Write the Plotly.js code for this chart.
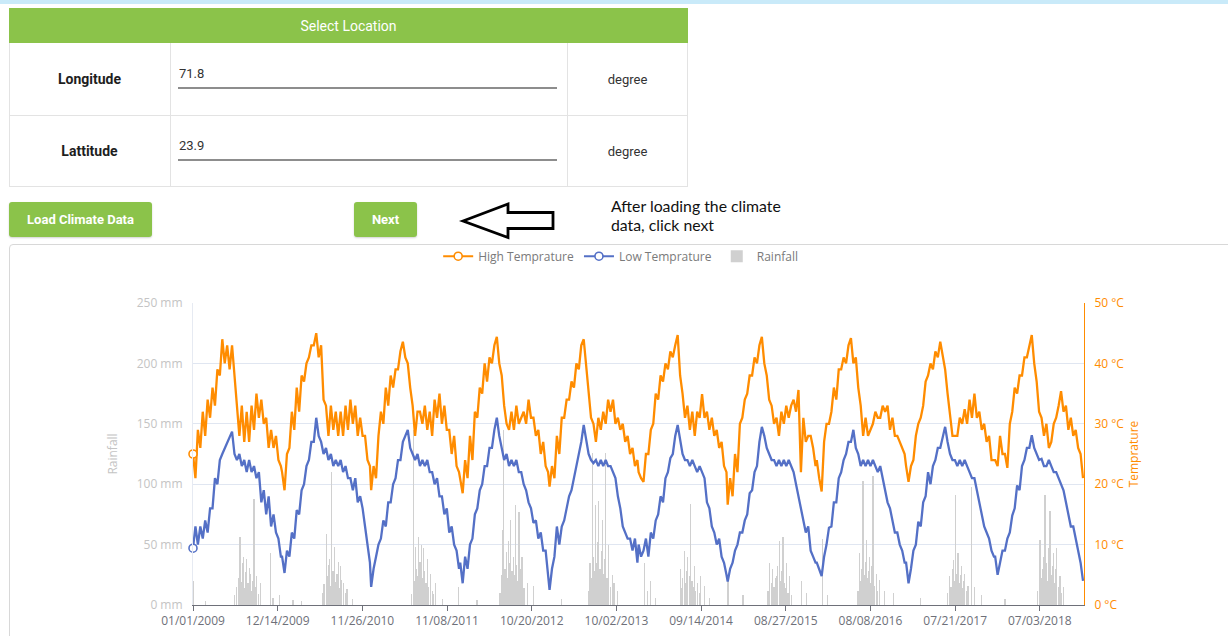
<!DOCTYPE html>
<html>
<head>
<meta charset="utf-8">
<script src="https://cdn.plot.ly/plotly-3.0.1.min.js"></script>
<style>
html,body{margin:0;padding:0;width:1228px;height:636px;overflow:hidden;background:#fff;font-family:Roboto,"Noto Sans",sans-serif;}
.abs{position:absolute;}
#topband{left:0;top:0;width:1228px;height:4px;background:#c9eaf9;}
#hdr{left:9px;top:8px;width:679px;height:35px;background:#8bc34a;color:#fff;font-size:14px;line-height:36px;text-align:center;}
#tbl{left:9px;top:43px;width:677px;height:143px;border:1px solid #e3e3e3;border-top:none;}
.hl{height:1px;background:#e3e3e3;}
.vl{width:1px;background:#e3e3e3;}
.lab{font-weight:bold;font-size:14px;color:#1e1e1e;width:161px;text-align:center;}
.val{font-size:13px;color:#333;}
.ul{height:2px;background:#8d8d8d;}
.unit{font-size:13px;color:#333;width:121px;text-align:center;}
.btn{background:#8bc34a;color:#fff;font-weight:bold;font-size:13px;text-align:center;line-height:35px;height:35px;border-radius:3px;box-shadow:0 1px 2px rgba(0,0,0,0.18);}
#note{left:611px;top:197px;font-family:Lato,"Open Sans",sans-serif;font-size:15.8px;line-height:18.5px;color:#111;}
#box{left:9px;top:244px;width:1240px;height:420px;border:1px solid #d8d8d8;border-radius:4px;}
#chart{left:0;top:0;width:1228px;height:636px;}
</style>
</head>
<body>
<div id="topband" class="abs"></div>
<div id="box" class="abs"></div>
<div id="chart" class="abs"></div>

<div id="hdr" class="abs">Select Location</div>
<div id="tbl" class="abs"></div>
<div class="abs hl" style="left:9px;top:115px;width:679px;"></div>
<div class="abs vl" style="left:170px;top:43px;height:144px;"></div>
<div class="abs vl" style="left:567px;top:43px;height:144px;"></div>
<div class="abs lab" style="left:9px;top:71px;">Longitude</div>
<div class="abs lab" style="left:9px;top:143px;">Lattitude</div>
<div class="abs val" style="left:179px;top:66px;">71.8</div>
<div class="abs val" style="left:179px;top:138px;">23.9</div>
<div class="abs ul" style="left:178px;top:87px;width:379px;"></div>
<div class="abs ul" style="left:178px;top:159px;width:379px;"></div>
<div class="abs unit" style="left:567px;top:72px;">degree</div>
<div class="abs unit" style="left:567px;top:144px;">degree</div>

<div class="abs btn" style="left:9px;top:202px;width:143px;">Load Climate Data</div>
<div class="abs btn" style="left:354px;top:202px;width:63px;">Next</div>
<svg class="abs" style="left:0;top:0;" width="1228" height="250">
  <path d="M463,221 L508,204 L508,212.5 L553,212.5 L553,228.5 L508,228.5 L508,237.5 Z" fill="#fff" stroke="#000" stroke-width="2.8" stroke-linejoin="miter"/>
</svg>
<div id="note" class="abs">After loading the climate<br>data, click next</div>

<script>
// ---- data ----
const tickLabels = ['01/01/2009','12/14/2009','11/26/2010','11/08/2011','10/20/2012','10/02/2013','09/14/2014','08/27/2015','08/08/2016','07/21/2017','07/03/2018'];
const rainTicks = [0,50,100,150,200,250];
const tempTicks = [0,10,20,30,40,50];
const years = [2009,2010,2011,2012,2013,2014,2015,2016,2017,2018];
// day of year of each reading (every 10 days)
const sampleDoy = [0,10,20,30,40,50,60,70,80,90,100,110,120,130,140,150,160,170,180,190,200,210,220,230,240,250,260,270,280,290,300,310,320,330,340,350,360];

const high2009 = [25,21,29,26,32,28,34,31,36,33,39,38,44,40,43,39,43,38,32,28,33,27,32,27,33,29,35,31,34,30,31,26,29,26,28,24,23];
const high2010 = [22,19,25,26,32,29,36,32,38,37,40,41,43,43,45,41,43,34,33,28,33,29,32,28,32,28,33,29,34,30,33,28,31,28,28,24,23];
const high2011 = [19,23,21,28,32,30,36,33,38,36,39,39,42,43.6,41,40,36,33,28,32,32,30,33,29,32,28,34,31,35,30,33,29,29,25,28,23,22];
const high2012 = [21,18.5,24,21,28,24,32,31,36,35,40,37,41,40,43,44.4,40,38,33,30,29,32,29,33,30,31,32,30,34,31,31,28,29,25,27,23,22];
const high2013 = [19.6,23,21,28,25,31,31,34,34,37,36,40,39,43,44,40,36,31,30,27,31,29,32,30,34,32,34,30,31,29,30,27,28,25,26,23,24];
const high2014 = [22,21,20.4,25,25,29,30,35,34,38,37,40,39,42,41,43,44.7,38,35,31,33,29,32,28,32,31,34.9,31,32,29,31,28,29,26,27,23,22];
const high2015 = [16.6,21,18,25,22,30,31,34,35,38,38,41,40,43,44.4,40,38,34,33,30,31,28,32,30,33,31,33,34,32,35.6,22,31,27,28,28,26,23];
const high2016 = [24,21,18.8,27,30,30,32,36,34,39,39,41,40,43,44.2,40,41,36,33,28,31,28,29,30,32,31,31,33,32,33,29,31,28,28,27,26,25];
const high2017 = [23,20.4,23,24,28,30,31,33,37,38,40,39,42,41,43.6,41,39,35,31,28,28,28,31,30,32.4,30,34,31,35,31,32,29,30,27,28,24,24];
const high2018 = [24,23,28,25,25,22.7,30,32,36,35,38,38,41,41,43,44.7,40,37,32,31,28,30,26,27,30,31,33,35.4,32,33,29,31,28,29,26,25,21];

const low2009 = [9.4,13,10,13,11,14,12,16,16,21,20,24,25,26,27,28,28.7,25,24,25,23,24,22,24,22,23,21,22,17,19,15,18,13,15,12,11,8];
const low2010 = [8,5.3,9,8,12,11,15.7,15,19,20,23,24,27,27,31,28,27,25,26,24,25,23,24,23,24,22,23,21,21,19,21,17,18,16,13,10,7];
const low2011 = [3,6,8,10,11,14,13,17,17,20,21,24,24,27,28,29,26,25,24,25,23,24,23,24,22,22,20,21,18,18,15,16,12,13,10,9,6];
const low2012 = [7,3.6,8,6,10,11,15,16,19,20,23,23,26,26,29,31,28,26,24,25,23,24,23,24,22,22,20,19,17,16,13.6,14,11,12,9,9,5];
const low2013 = [2.5,6,8,13,10,13,14,16,18,19,21,23,25,27,29.8,27,25,24,23.5,24,23,24,23,24,23,23,22,21,18,16,13,12,11,11,9,11,7];
const low2014 = [10,8,9,11,8,12,11,14,15,18,17,21,22,24.3,25,28,29.8,27,25,24,24,23,24,23,22,23,22,21,17,16,13,12,10,11,8,7,5];
const low2015 = [3.9,6,7,9,10,12,12,14,15,18.5,19,22,23,27,29.5,28,26,25,24,24,23,24,23,24,23,24,23,22,20,18,16,14,12,13,9,8,7];
const low2016 = [7,6,4.8,8,10,12.8,13,17,17,21,22,24,25,27,27,29,26,25,23,24,23,24,23,24,23,22,23,21,19,17,16,14,12,12,10,9,7];
const low2017 = [7,3.6,6,9,10,13.8,13,17,18,22,20,23,24,26,26,28,29.5,27,25,24,24,23,24,23,24,23,22,21,21,19,17,15,13,12,11,9,8];
const low2018 = [8,5,7,9,9,11,12,14.8,16,19.8,19,23,24,26,26,28.1,26,25,24,24.2,23,23,24,23,22,22,21,20,19,17,15,13,13,11,9,7,4];

const highByYear = [high2009,high2010,high2011,high2012,high2013,high2014,high2015,high2016,high2017,high2018];
const lowByYear = [low2009,low2010,low2011,low2012,low2013,low2014,low2015,low2016,low2017,low2018];

const rainDates = ['2009-01-01','2009-01-02','2009-01-04','2009-02-20','2009-06-20','2009-06-29','2009-07-05','2009-07-09','2009-07-13','2009-07-18','2009-07-22','2009-07-27','2009-08-01','2009-08-05','2009-08-09','2009-08-14','2009-08-19','2009-08-23','2009-08-28','2009-09-02','2009-09-08','2009-09-13','2009-09-19','2009-09-25','2009-10-03','2009-11-13','2009-11-25','2009-12-20',
'2010-02-15','2010-03-20','2010-06-15','2010-06-22','2010-07-01','2010-07-05','2010-07-10','2010-07-15','2010-07-19','2010-07-24','2010-07-29','2010-08-03','2010-08-08','2010-08-14','2010-08-19','2010-08-24','2010-08-28','2010-09-03','2010-09-10','2010-09-17','2010-09-24','2010-10-15',
'2011-06-15','2011-06-22','2011-06-27','2011-07-02','2011-07-07','2011-07-11','2011-07-15','2011-07-20','2011-07-25','2011-07-30','2011-08-05','2011-08-09','2011-08-14','2011-08-19','2011-08-25','2011-09-01','2011-09-08','2011-09-15','2011-09-22','2011-10-20','2011-12-25',
'2012-03-10','2012-06-12','2012-06-18','2012-06-22','2012-06-27','2012-07-02','2012-07-08','2012-07-13','2012-07-18','2012-07-22','2012-07-26','2012-07-31','2012-08-05','2012-08-10','2012-08-15','2012-08-20','2012-08-25','2012-08-29','2012-09-04','2012-09-10','2012-09-18','2012-10-02','2012-10-28',
'2013-02-20','2013-06-10','2013-06-16','2013-06-21','2013-06-25','2013-06-30','2013-07-05','2013-07-09','2013-07-14','2013-07-18','2013-07-22','2013-07-27','2013-08-01','2013-08-05','2013-08-10','2013-08-14','2013-08-19','2013-08-24','2013-09-01','2013-09-08','2013-09-15','2013-09-22','2013-10-06',
'2014-01-24','2014-02-05','2014-02-20','2014-03-10','2014-06-20','2014-06-26','2014-07-01','2014-07-07','2014-07-12','2014-07-16','2014-07-21','2014-07-27','2014-08-03','2014-08-08','2014-08-12','2014-08-17','2014-08-23','2014-08-30','2014-09-06','2014-09-13','2014-09-27','2014-10-20',
'2015-01-02','2015-03-05','2015-06-15','2015-06-22','2015-06-28','2015-07-05','2015-07-10','2015-07-15','2015-07-19','2015-07-25','2015-08-02','2015-08-07','2015-08-11','2015-08-16','2015-08-21','2015-08-25','2015-08-29','2015-09-05','2015-09-12','2015-09-20','2015-10-29','2015-11-20',
'2016-01-26','2016-02-15','2016-06-18','2016-06-24','2016-06-29','2016-07-04','2016-07-08','2016-07-13','2016-07-18','2016-07-22','2016-07-27','2016-08-01','2016-08-04','2016-08-09','2016-08-14','2016-08-18','2016-08-24','2016-09-01','2016-09-07','2016-09-14','2016-10-05','2016-11-10',
'2017-03-01','2017-06-20','2017-06-29','2017-07-04','2017-07-09','2017-07-13','2017-07-18','2017-07-22','2017-07-27','2017-08-02','2017-08-07','2017-08-11','2017-08-16','2017-08-21','2017-08-25','2017-08-29','2017-09-05','2017-09-12','2017-09-26','2017-10-09','2017-11-05',
'2018-02-10','2018-06-25','2018-07-01','2018-07-04','2018-07-09','2018-07-13','2018-07-17','2018-07-21','2018-07-24','2018-07-29','2018-08-03','2018-08-07','2018-08-11','2018-08-14','2018-08-19','2018-08-24','2018-08-28','2018-09-02','2018-09-06','2018-09-10','2018-09-16','2018-09-24','2018-10-01','2018-10-08'];
const rainMM = [17,20,9,3,8,15,22,30,56,19,35,40,14,27,38,18,31,26,12,20,88,15,24,9,18,43,6,8,
4,3,10,17,59,24,33,38,16,110,28,48,19,26,36,14,32,21,18,10,13,5,
9,145,20,48,30,24,56,36,50,22,47,28,18,38,15,26,12,9,18,5,15,
4,10,25,62,145,30,44,22,53,35,70,28,40,25,83,33,20,77,30,40,14,18,16,
5,12,35,22,126,40,28,83,35,52,86,30,45,70,26,38,126,22,50,15,25,18,12,
35,12,20,6,30,14,22,45,18,28,40,24,84,20,15,32,12,18,10,24,16,6,
21,8,12,35,18,30,15,22,24,32,53,20,28,56,18,14,35,10,24,8,20,10,
55,8,12,43,20,30,103,25,36,54,22,28,40,18,32,107,16,26,12,21,12,10,
6,10,24,15,30,37,20,91,26,43,18,25,32,14,20,26,12,16,98,15,8,
5,12,28,54,22,30,40,26,91,35,20,47,30,78,25,32,43,18,30,47,15,24,10,15];

// ---- build series ----
const DAY = 86400000;
function dateOf(y, doy){ return new Date(Date.UTC(y,0,1) + doy*DAY).toISOString().slice(0,10); }
const tempDates = [], highVals = [], lowVals = [];
years.forEach((y,i)=>{ sampleDoy.forEach((d,j)=>{ tempDates.push(dateOf(y,d)); highVals.push(highByYear[i][j]); lowVals.push(lowByYear[i][j]); }); });
const tickVals = tickLabels.map(s=>{ const p=s.split('/'); return p[2]+'-'+p[0]+'-'+p[1]; });

const ORANGE = '#ff8c00', BLUE = '#5470c6', GRAY = '#d0d0d0';
const FONT = '"Open Sans", "Noto Sans", sans-serif';

const traces = [
  {type:'bar', x:rainDates, y:rainMM, yaxis:'y', name:'Rainfall', legendrank:3,
   width:5*DAY, marker:{color:GRAY, line:{width:0}}, hoverinfo:'skip'},
  {type:'scatter', mode:'lines', x:tempDates, y:highVals, yaxis:'y2', showlegend:false,
   line:{color:ORANGE, width:2.3}},
  {type:'scatter', mode:'lines', x:tempDates, y:lowVals, yaxis:'y2', showlegend:false,
   line:{color:BLUE, width:2.3}},
  {type:'scatter', mode:'lines+markers', x:[tempDates[0]], y:[highVals[0]], yaxis:'y2', name:'High Temprature', legendrank:1,
   cliponaxis:false, line:{color:ORANGE, width:2}, marker:{symbol:'circle', size:8, color:'#fff', line:{color:ORANGE, width:1.6}}},
  {type:'scatter', mode:'lines+markers', x:[tempDates[0]], y:[lowVals[0]], yaxis:'y2', name:'Low Temprature', legendrank:2,
   cliponaxis:false, line:{color:BLUE, width:2}, marker:{symbol:'circle', size:8, color:'#fff', line:{color:BLUE, width:1.6}}}
];

const layout = {
  width:1228, height:636,
  margin:{l:193, r:144, t:303, b:31, pad:0},
  paper_bgcolor:'rgba(0,0,0,0)', plot_bgcolor:'rgba(0,0,0,0)',
  font:{family:FONT, size:12, color:'#6e7079'},
  bargap:0,
  xaxis:{type:'date', range:['2009-01-01','2018-12-31'], tickmode:'array', tickvals:tickVals, ticktext:tickLabels,
         ticks:'outside', ticklen:5, tickcolor:'#6e7079', showline:true, linecolor:'#6e7079', linewidth:1,
         showgrid:false, zeroline:false, tickfont:{color:'#6e7079', size:12}},
  yaxis:{range:[0,250], tickmode:'array', tickvals:rainTicks, ticktext:rainTicks.map(v=>v+' mm'),
         showgrid:true, gridcolor:'#e0e6f1', zeroline:false, showline:true, linecolor:'#e6eaf2',
         ticks:'outside', ticklen:7, tickcolor:'rgba(0,0,0,0)', tickfont:{color:'#c4c4c4', size:12},
         title:{text:'Rainfall', font:{color:'#c4c4c4', size:12}, standoff:16}},
  yaxis2:{range:[0,50], overlaying:'y', side:'right', tickmode:'array', tickvals:tempTicks, ticktext:tempTicks.map(v=>v+' °C'),
          showgrid:false, zeroline:false, showline:true, linecolor:ORANGE, linewidth:1,
          ticks:'outside', ticklen:7, tickcolor:'rgba(0,0,0,0)', tickfont:{color:ORANGE, size:12},
          title:{text:'Temprature', font:{color:ORANGE, size:12}, standoff:6}},
  showlegend:true,
  legend:{orientation:'h', x:0.48, xanchor:'center', y:1.155, yanchor:'middle', itemwidth:30,
          font:{family:FONT, size:12, color:'#7a7a7a'}, bgcolor:'rgba(0,0,0,0)', traceorder:'normal'}
};

Plotly.newPlot('chart', traces, layout, {staticPlot:true, displayModeBar:false});
</script>
</body>
</html>
